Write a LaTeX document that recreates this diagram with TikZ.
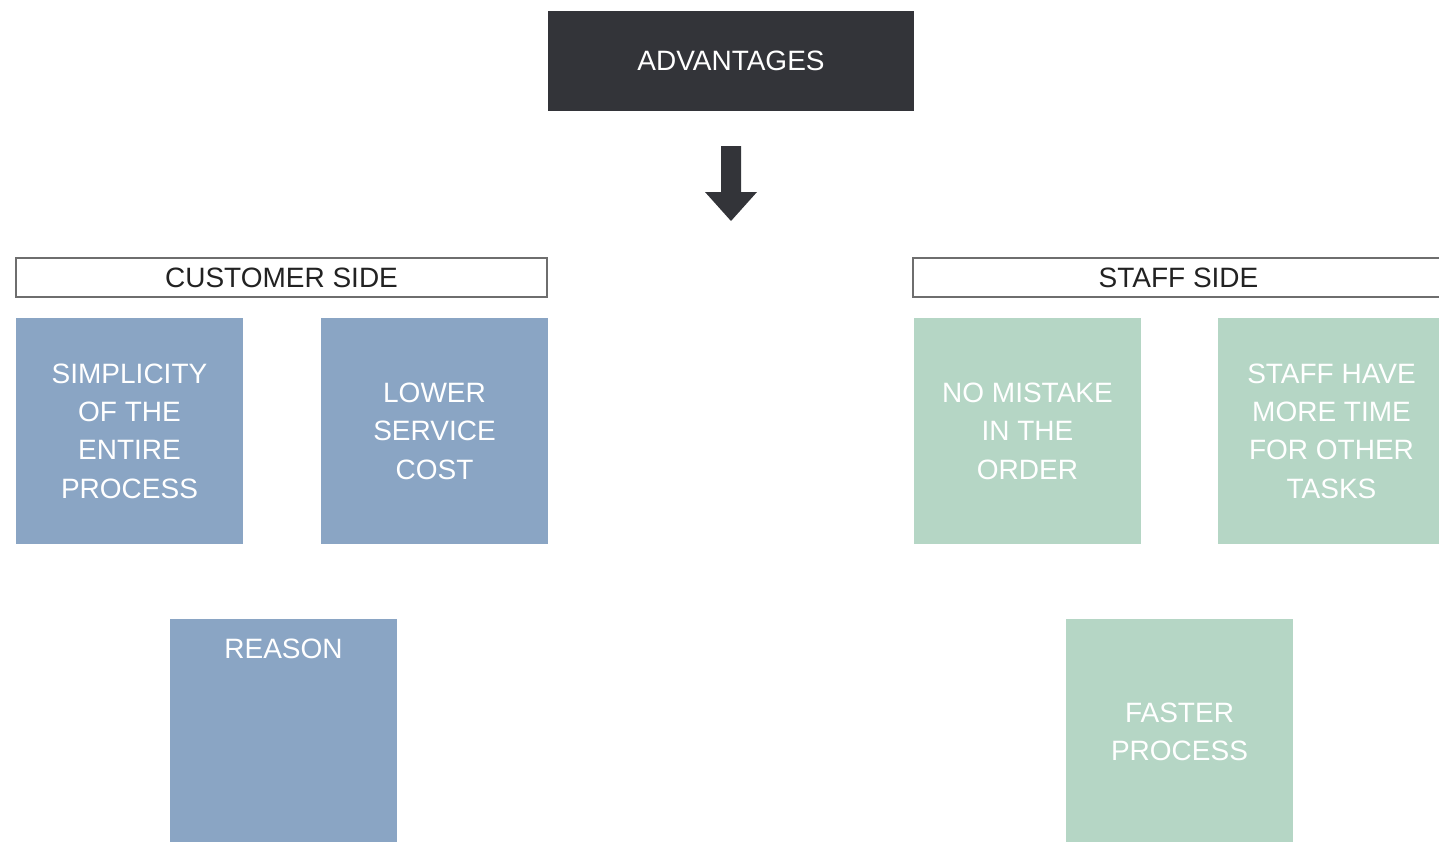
\documentclass[tikz,border=0pt]{standalone}
\usepackage{fontspec}
\setmainfont{Liberation Sans}
\definecolor{darkbox}{HTML}{333439}
\definecolor{custblue}{HTML}{8AA5C4}
\definecolor{staffgreen}{HTML}{B5D6C5}
\definecolor{headborder}{HTML}{6E6E6E}
\definecolor{headtext}{HTML}{222222}
\begin{document}
\begin{tikzpicture}[x=0.5pt,y=-0.5pt,
  boxtext/.style={font=\fontsize{14}{19.2}\selectfont, align=center, text=white},
  titlebox/.style={boxtext, fill=darkbox, minimum width=183pt, minimum height=50pt, inner sep=0pt},
  headbox/.style={font=\fontsize{14}{19.2}\selectfont, text=headtext, draw=headborder, line width=0.7pt, fill=white,
    minimum width=265.5pt, minimum height=19.5pt, inner sep=0pt},
  tile/.style={boxtext, minimum width=113.5pt, minimum height=113pt, inner sep=0pt},
  bluetile/.style={tile, fill=custblue},
  greentile/.style={tile, fill=staffgreen},
  pointer/.style={fill=darkbox, draw=none}]
  \useasboundingbox (0,0) rectangle (1439,841);
  \clip (0,0) rectangle (1439,841);

  % title
  \node[titlebox] (adv) at (731,61) {ADVANTAGES};

  % block arrow below the title
  \fill[pointer] (721,146) -- (741,146) -- (741,192) -- (757,192) -- (731,221)
    -- (705,192) -- (721,192) -- cycle;

  % section headers
  \node[headbox] (cust) at (281.5,277.5) {CUSTOMER SIDE};
  \node[headbox] (staff) at (1178.5,277.5) {STAFF SIDE};

  % customer side tiles
  \node[bluetile] (simp) at (129.5,431) {SIMPLICITY\\OF THE\\ENTIRE\\PROCESS};
  \node[bluetile] (cost) at (434.5,431) {LOWER\\SERVICE\\COST};
  \node[bluetile] (reason) at (283.5,732) {};
  \node[boxtext, anchor=north] (reasonlbl) at (283.5,632) {REASON};

  % staff side tiles
  \node[greentile] (mist) at (1027.5,431) {NO MISTAKE\\IN THE\\ORDER};
  \node[greentile] (time) at (1331.5,431) {STAFF HAVE\\MORE TIME\\FOR OTHER\\TASKS};
  \node[greentile] (fast) at (1179.5,732) {FASTER\\PROCESS};
\end{tikzpicture}
\end{document}
